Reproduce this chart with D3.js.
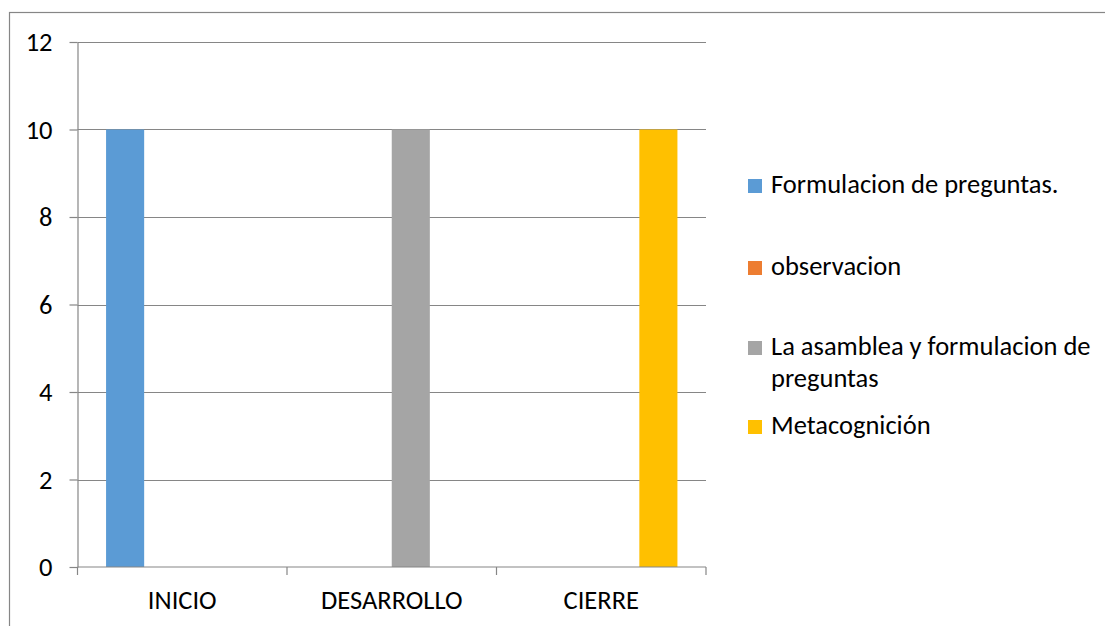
<!DOCTYPE html>
<html>
<head>
<meta charset="utf-8">
<script src="https://cdn.jsdelivr.net/npm/d3@7"></script>
<style>
	body { margin: 0; background: #fff; }
	text { font-family: Carlito, Calibri, Lato, sans-serif; fill: #000; }
</style>
</head>
<body>
<div id="chart-area"></div>
<script>
var categories = ["INICIO", "DESARROLLO", "CIERRE"];
var seriesNames = ["Formulacion de preguntas.", "observacion", "La asamblea y formulacion de preguntas", "Metacognición"];
var formulacion = [10, 0, 0];
var observacion = [0, 0, 0];
var asamblea = [0, 10, 0];
var metacognicion = [0, 0, 10];
var yTicks = [0, 2, 4, 6, 8, 10, 12];
var colors = ["#5B9BD5", "#ED7D31", "#A5A5A5", "#FFC000"];

var seriesValues = [formulacion, observacion, asamblea, metacognicion];

var W = 1105, H = 626;
var margin = {top: 42, right: 399, bottom: 59, left: 77.5};
var width = W - margin.left - margin.right;
var height = H - margin.top - margin.bottom;
var fontSize = "26.5px";

var svg = d3.select("#chart-area")
	.append("svg")
		.attr("width", W)
		.attr("height", H);

// chart frame
svg.append("rect")
	.attr("x", 9.5)
	.attr("y", 12.5)
	.attr("width", W + 20)
	.attr("height", H + 20)
	.attr("fill", "none")
	.attr("stroke", "#868686")
	.attr("stroke-width", 1.2);

var g = svg.append("g")
	.attr("transform", "translate(" + margin.left + ", " + margin.top + ")");

var x = d3.scaleBand()
	.domain(categories)
	.range([0, width]);

var xs = d3.scaleBand()
	.domain(seriesNames)
	.range([0, x.bandwidth()])
	.paddingInner(0)
	.paddingOuter(0.75);

var y = d3.scaleLinear()
	.domain([0, 12])
	.range([height, 0]);

// gridlines
g.selectAll(".grid")
	.data(yTicks.filter((d) => d > 0))
	.enter()
	.append("line")
		.attr("class", "grid")
		.attr("x1", 0)
		.attr("x2", width)
		.attr("y1", (d) => Math.round(y(d)) + 0.5)
		.attr("y2", (d) => Math.round(y(d)) + 0.5)
		.attr("stroke", "#868686")
		.attr("stroke-width", 1.2);

// bars
var rows = [];
seriesValues.forEach((vals, i) => {
	vals.forEach((v, j) => {
		rows.push({series: seriesNames[i], cat: categories[j], value: v, color: colors[i]});
	});
});

g.selectAll("rect.bar")
	.data(rows.filter((d) => d.value > 0))
	.enter()
	.append("rect")
		.attr("class", "bar")
		.attr("x", (d) => x(d.cat) + xs(d.series))
		.attr("y", (d) => y(d.value))
		.attr("width", xs.bandwidth())
		.attr("height", (d) => height - y(d.value))
		.attr("fill", (d) => d.color);

// left axis
var leftAxis = d3.axisLeft(y).tickValues(yTicks).tickSizeInner(8).tickSizeOuter(0).tickPadding(17);
var ly = g.append("g")
	.attr("class", "left axis")
	.call(leftAxis);
ly.selectAll("line, path").attr("stroke", "#868686").attr("stroke-width", 1.2);
ly.selectAll("text")
	.attr("font-size", fontSize)
	.attr("dy", "0.33em")
	.style("fill", "#000");

// bottom axis: ticks at category boundaries
var bottom = g.append("g")
	.attr("class", "bottom axis")
	.attr("transform", "translate(0, " + height + ")");
bottom.append("line")
	.attr("x1", 0)
	.attr("x2", width)
	.attr("stroke", "#868686")
	.attr("stroke-width", 1.2);
var bounds = categories.map((c) => x(c)).concat([width]);
bottom.selectAll(".btick")
	.data(bounds)
	.enter()
	.append("line")
		.attr("class", "btick")
		.attr("x1", (d) => d)
		.attr("x2", (d) => d)
		.attr("y1", 0)
		.attr("y2", 8)
		.attr("stroke", "#868686")
		.attr("stroke-width", 1.2);
bottom.selectAll(".blabel")
	.data(categories)
	.enter()
	.append("text")
		.attr("class", "blabel")
		.attr("x", (d) => x(d) + x.bandwidth() / 2)
		.attr("y", 42)
		.attr("text-anchor", "middle")
		.attr("font-size", fontSize)
		.text((d) => d);

// legend
var legendLines = [["Formulacion de preguntas."], ["observacion"], ["La asamblea y formulacion de", "preguntas"], ["Metacognición"]];
var legendY = [193, 275, 355, 434];
var legend = svg.append("g").attr("class", "legend");
seriesNames.forEach((s, i) => {
	var lg = legend.append("g").attr("transform", "translate(748, " + legendY[i] + ")");
	lg.append("rect")
		.attr("x", 0)
		.attr("y", -14)
		.attr("width", 14)
		.attr("height", 14)
		.attr("fill", colors[i]);
	lg.selectAll("text")
		.data(legendLines[i])
		.enter()
		.append("text")
			.attr("x", 23)
			.attr("y", (d, k) => k * 32)
			.attr("font-size", fontSize)
			.text((d) => d);
});
</script>
</body>
</html>
